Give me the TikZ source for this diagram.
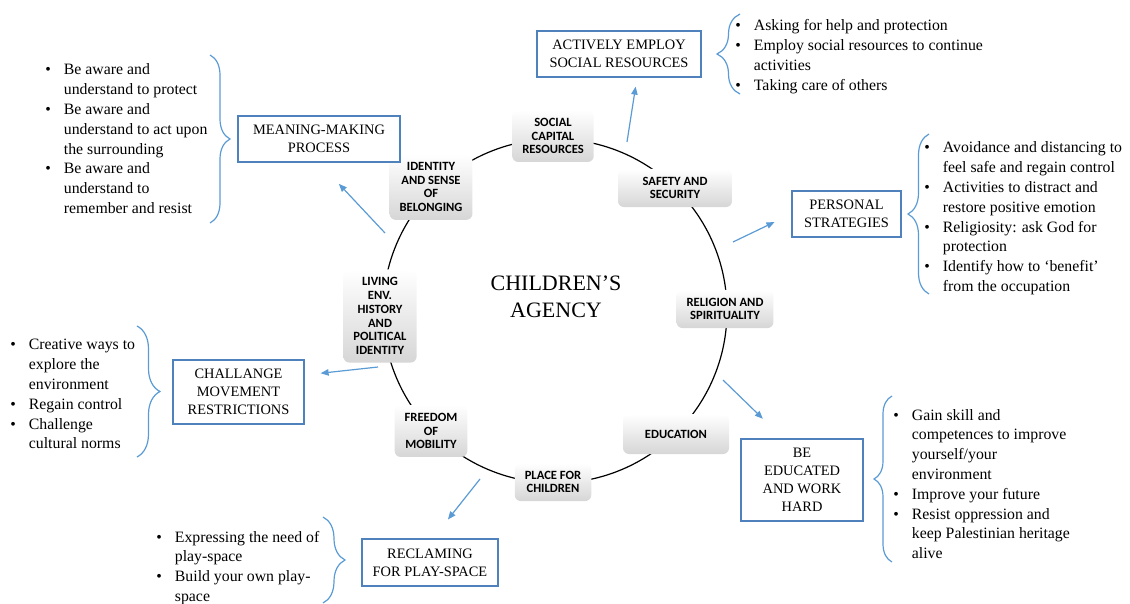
\documentclass[tikz,border=0pt]{standalone}
\usepackage{fontspec}
\setmainfont{Liberation Serif}
\newfontfamily\lblfont{Carlito}
\usepackage{tikz}
\usetikzlibrary{arrows.meta,calc,decorations.pathreplacing}
\definecolor{agblue}{RGB}{91,155,213}
\definecolor{agframe}{RGB}{79,129,189}
\definecolor{aggray}{RGB}{214,214,214}

\begin{document}
\begin{tikzpicture}[x=0.5pt,y=0.5pt,
  seg/.style={
    rectangle, rounded corners=3pt,
    top color=white, middle color=white, bottom color=aggray,
    font=\lblfont\bfseries\fontsize{6.3}{6.9}\selectfont,
    align=center, inner xsep=5pt, inner ysep=4pt
  },
  outcome/.style={
    rectangle, draw=agframe, line width=0.7pt,
    fill=white, align=center, inner sep=2pt,
    font=\fontsize{7.2}{9}\selectfont
  },
  pts/.style={anchor=base west, inner sep=0pt, font=\fontsize{7.9}{9.9}\selectfont},
  conn/.style={-{Triangle[length=4pt,width=3.2pt]}, line width=0.6pt, draw=agblue},
  brk/.style={decorate, decoration={brace, amplitude=#1}, draw=agblue, line width=0.6pt}
]
\useasboundingbox (0,0) rectangle (1130,-604);

\coordinate (hub) at (555,-311);
\draw[line width=0.6pt] (hub) circle[radius=172];
\node[font=\fontsize{11}{13.5}\selectfont, align=center] (title) at (556,-297) {CHILDREN’S\\AGENCY};

\node[seg] (social) at (553,-136) {SOCIAL\\CAPITAL\\RESOURCES};
\node[seg, minimum width=57pt] (safety) at (675,-188) {SAFETY AND\\SECURITY};
\node[seg] (religion) at (725,-309) {RELIGION AND\\SPIRITUALITY};
\node[seg, minimum width=53pt, minimum height=20pt] (educ) at (676,-434) {EDUCATION};
\node[seg] (place) at (553,-482) {PLACE FOR\\CHILDREN};
\node[seg] (freedom) at (431,-431) {FREEDOM\\OF\\MOBILITY};
\node[seg] (living) at (380,-316) {LIVING\\ENV.\\HISTORY\\AND\\POLITICAL\\IDENTITY};
\node[seg] (identity) at (431,-187) {IDENTITY\\AND SENSE\\OF\\BELONGING};

\node[outcome, minimum width=82pt, minimum height=23pt] (employ) at (619,-54) {ACTIVELY EMPLOY\\SOCIAL RESOURCES};
\node[outcome, minimum width=81pt, minimum height=23pt] (meaning) at (319,-139) {MEANING-MAKING\\PROCESS};
\node[outcome, minimum width=54.5pt, minimum height=23pt] (personal) at (846.5,-214) {PERSONAL\\STRATEGIES};
\node[outcome, minimum width=61pt, minimum height=41pt] (educated) at (802,-480) {BE\\EDUCATED\\AND WORK\\HARD};
\node[outcome, minimum width=68pt, minimum height=23.5pt] (reclaim) at (430,-562.5) {RECLAMING\\FOR PLAY-SPACE};
\node[outcome, minimum width=65.5pt, minimum height=32pt] (mobility) at (238.5,-392) {CHALLANGE\\MOVEMENT\\RESTRICTIONS};

\coordinate (s1) at (627,-142);
\coordinate (s2) at (733,-242);
\coordinate (s3) at (723,-380);
\coordinate (s4) at (480,-479);
\coordinate (s5) at (378,-367);
\coordinate (s6) at (385,-233);

\draw[conn, shorten >=4.5pt] (s1) -- ([xshift=9pt]employ.south);
\draw[conn, shorten >=9.3pt] (s2) -- (personal.west);
\draw[conn, shorten >=14pt] (s3) -- ([xshift=-9.5pt]educated.north);
\draw[conn, shorten >=12pt] (s4) -- ([xshift=1.5pt]reclaim.north);
\draw[conn, shorten >=8pt] (s5) -- ([yshift=8.5pt]mobility.east);
\draw[conn, shorten >=14.5pt] (s6) -- (meaning.south);

\node[pts] (employlist) at (735,-31) {\begin{tabular}[t]{@{}l@{\hspace{6.5pt}}l@{}}
\textbullet & Asking for help and protection\\
\textbullet & Employ social resources to continue\\
 & activities\\
\textbullet & Taking care of others
\end{tabular}};
\node[pts] (personallist) at (924,-153) {\begin{tabular}[t]{@{}l@{\hspace{6.5pt}}l@{}}
\textbullet & Avoidance and distancing to\\
 & feel safe and regain control\\
\textbullet & Activities to distract and\\
 & restore positive emotion\\
\textbullet & Religiosity: ask God for\\
 & protection\\
\textbullet & Identify how to `benefit'\\
 & from the occupation
\end{tabular}};
\node[pts] (educatedlist) at (893,-420) {\begin{tabular}[t]{@{}l@{\hspace{6.5pt}}l@{}}
\textbullet & Gain skill and\\
 & competences to improve\\
 & yourself/your\\
 & environment\\
\textbullet & Improve your future\\
\textbullet & Resist oppression and\\
 & keep Palestinian heritage\\
 & alive
\end{tabular}};
\node[pts] (reclaimlist) at (156,-542) {\begin{tabular}[t]{@{}l@{\hspace{6.5pt}}l@{}}
\textbullet & Expressing the need of\\
 & play-space\\
\textbullet & Build your own play-\\
 & space
\end{tabular}};
\node[pts] (mobilitylist) at (10,-350) {\begin{tabular}[t]{@{}l@{\hspace{6.5pt}}l@{}}
\textbullet & Creative ways to\\
 & explore the\\
 & environment\\
\textbullet & Regain control\\
\textbullet & Challenge\\
 & cultural norms
\end{tabular}};
\node[pts] (meaninglist) at (45,-75) {\begin{tabular}[t]{@{}l@{\hspace{6.5pt}}l@{}}
\textbullet & Be aware and\\
 & understand to protect\\
\textbullet & Be aware and\\
 & understand to act upon\\
 & the surrounding\\
\textbullet & Be aware and\\
 & understand to\\
 & remember and resist
\end{tabular}};

\draw[brk=11.5pt] (740,-94) -- (740,-14);
\draw[brk=10.5pt] (929,-294) -- (929,-134);
\draw[brk=9pt] (892,-562) -- (892,-396);
\draw[brk=10pt] (210,-55) -- (210,-223);
\draw[brk=11.5pt] (137,-326) -- (137,-457);
\draw[brk=11pt] (323,-517) -- (323,-603);
\end{tikzpicture}
\end{document}
